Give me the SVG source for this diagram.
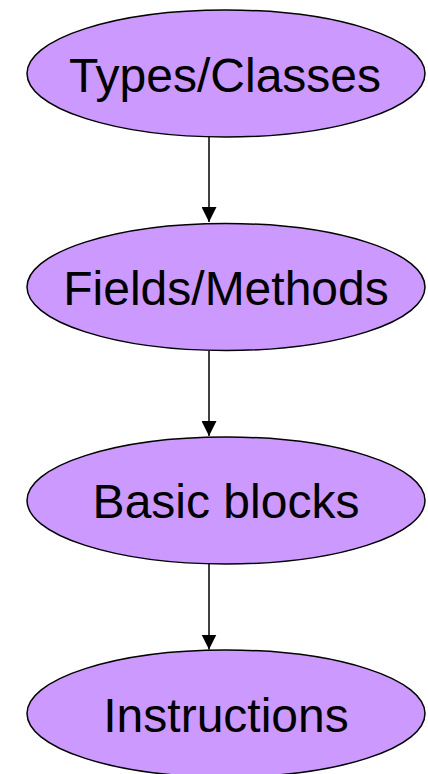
<svg xmlns="http://www.w3.org/2000/svg" width="428" height="774" viewBox="0 0 428 774">
<style>
.node ellipse{fill:#cc99ff;stroke:#000;stroke-width:1.5}
.node text{font-family:"Liberation Sans",Arial,sans-serif;font-size:48px;fill:#000;text-anchor:middle}
.edge{stroke:#000;stroke-width:1.5;fill:none}
</style>
<defs>
<marker id="ah" markerWidth="15" markerHeight="15" refX="15" refY="7.5" orient="auto" markerUnits="userSpaceOnUse">
<path d="M0,0 L15,7.5 L0,15 Z" fill="#000"/>
</marker>
</defs>
<rect width="428" height="774" fill="#fff"/>
<g id="connectors">
<line class="edge" x1="209" y1="137" x2="209" y2="222" marker-end="url(#ah)"/>
<line class="edge" x1="209" y1="351" x2="209" y2="436" marker-end="url(#ah)"/>
<line class="edge" x1="209" y1="564" x2="209" y2="649.5" marker-end="url(#ah)"/>
</g>
<g id="types" class="node">
<ellipse cx="226" cy="73.5" rx="199" ry="63.5"/>
<text x="225" y="92">Types/Classes</text>
</g>
<g id="fields" class="node">
<ellipse cx="226" cy="287" rx="199" ry="63.5"/>
<text x="226" y="305">Fields/Methods</text>
</g>
<g id="blocks" class="node">
<ellipse cx="226" cy="500.5" rx="199" ry="63.5"/>
<text x="226" y="518">Basic blocks</text>
</g>
<g id="instructions" class="node">
<ellipse cx="226" cy="713.5" rx="199" ry="63.5"/>
<text x="226" y="731.5">Instructions</text>
</g>
</svg>
